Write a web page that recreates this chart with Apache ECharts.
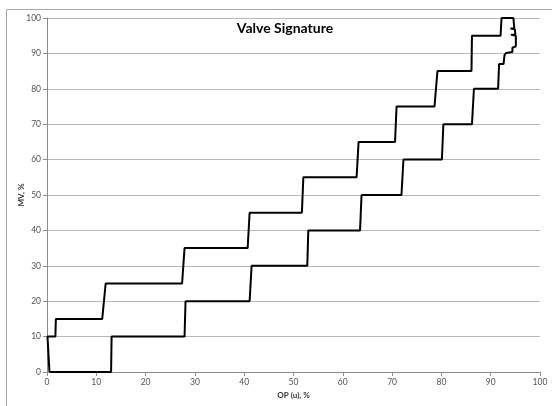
<!DOCTYPE html>
<html>
<head>
<meta charset="utf-8">
<script src="https://cdn.jsdelivr.net/npm/echarts@6/dist/echarts.min.js"></script>
<style>
html,body{margin:0;padding:0;background:#fff;}
#c{width:552px;height:406px;}
</style>
</head>
<body>
<div id="c"></div>
<script>
// OP (u), % values along the signature path
var opX = [0.5, 0.3, 0.1, 1.7, 1.8, 11.2, 11.9, 27.4, 27.9, 40.7, 41.1, 51.7, 52.0, 62.8, 63.2, 70.6, 70.9, 78.6, 79.2, 86.1, 86.2, 92.0, 92.2, 94.6,
  94.8, 94.0, 94.9, 95.0, 94.1, 95.1, 95.1, 94.4, 94.4, 93.1, 92.8, 92.6, 91.7, 91.5,
  86.6, 86.2, 80.4, 80.1, 72.3, 71.9, 63.8, 63.5, 53.0, 52.8, 41.5, 41.1, 28.1, 27.9, 13.1, 13.0, 0.5];
// MV, % values along the signature path
var mvY = [0, 5, 10, 10, 15, 15, 25, 25, 35, 35, 45, 45, 55, 55, 65, 65, 75, 75, 85, 85, 95, 95, 100, 100,
  97, 97, 96.8, 95.3, 95.3, 95.0, 92.0, 91.6, 90.4, 90.1, 89.5, 87.0, 87.0, 80,
  80, 70, 70, 60, 60, 50, 50, 40, 40, 30, 30, 20, 20, 10, 10, 0, 0];
var titleText = 'Valve Signature';
var xName = 'OP (u), %';
var yName = 'MV, %';

var pts = opX.map(function(x, i){ return [x, mvY[i]]; });
var font = 'Lato, "Open Sans", sans-serif';
var chart = echarts.init(document.getElementById('c'));
chart.setOption({
  animation: false,
  backgroundColor: '#fff',
  title: {
    text: titleText, left: 280, top: 16, textAlign: 'center',
    textStyle: {fontFamily: font, fontSize: 14, fontWeight: 'bold', color: '#000'}
  },
  graphic: [{
    type: 'rect', shape: {x: 6.5, y: 9.5, width: 560, height: 420},
    style: {fill: 'none', stroke: '#a6a6a6', lineWidth: 1}, silent: true, z: -1
  }],
  grid: {left: 47, right: 12, top: 18, bottom: 34},
  xAxis: {
    type: 'value', min: 0, max: 100, interval: 10,
    name: xName, nameLocation: 'middle', nameGap: 17,
    nameTextStyle: {fontFamily: font, fontSize: 8, fontWeight: 'bold', color: '#333'},
    axisLine: {lineStyle: {color: '#8c8c8c'}},
    axisTick: {show: true, length: 4, lineStyle: {color: '#8c8c8c'}},
    axisLabel: {fontFamily: font, fontSize: 8.5, color: '#555', margin: 6},
    splitLine: {show: false}
  },
  yAxis: {
    type: 'value', min: 0, max: 100, interval: 10,
    name: yName, nameLocation: 'middle', nameGap: 22, nameRotate: 90,
    nameMoveOverlap: false,
    nameTextStyle: {fontFamily: font, fontSize: 8, fontWeight: 'bold', color: '#333'},
    axisLine: {show: true, lineStyle: {color: '#8c8c8c'}},
    axisTick: {show: true, length: 4, lineStyle: {color: '#8c8c8c'}},
    axisLabel: {fontFamily: font, fontSize: 8.5, color: '#555', margin: 6},
    splitLine: {show: true, lineStyle: {color: '#b8b8b8'}}
  },
  series: [{
    type: 'line', data: pts, showSymbol: false, symbol: 'none',
    lineStyle: {color: '#000', width: 2}, z: 3
  }]
});
</script>
</body>
</html>
